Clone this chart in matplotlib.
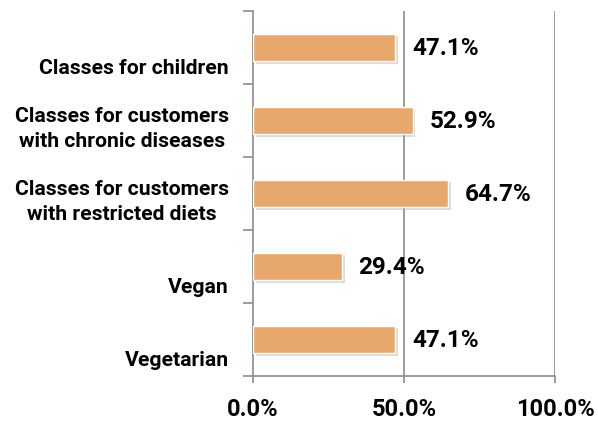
import numpy as np
import matplotlib
matplotlib.use("Agg")
import matplotlib.pyplot as plt
import matplotlib.patheffects as pe

# data (bottom to top)
categories = ["Vegetarian", "Vegan",
              "Classes for customers\nwith restricted diets",
              "Classes for customers\nwith chronic diseases",
              "Classes for children"]
values = [47.1, 29.4, 64.7, 52.9, 47.1]
xticks = [0, 50, 100]

bar_color = "#E8A86B"
axis_color = "#8C8C8C"

plt.rcParams['font.family'] = ['Roboto', 'DejaVu Sans']
plt.rcParams['font.weight'] = 'bold'

fig = plt.figure(figsize=(5.98, 4.22), dpi=100)
ax = fig.add_axes([0.423, 0.109, 0.505, 0.865])

y = np.arange(len(categories))
bars = ax.barh(y, values, height=0.38, color=bar_color, edgecolor="white",
               linewidth=1.0, zorder=3)
for b in bars:
    b.set_path_effects([pe.SimplePatchShadow(offset=(2, -2), shadow_rgbFace="#999999", alpha=0.35),
                        pe.Normal()])

# value labels
for yi, v in zip(y, values):
    ax.annotate(f"{v:.1f}%", (v, yi), xytext=(12, -1), textcoords="offset points",
                ha="left", va="center", fontsize=17.5, fontweight="bold", color="black")

# category labels, bottom aligned within each band
for yi, c in zip(y, categories):
    ax.text(-0.08, yi - 0.42, c, transform=ax.get_yaxis_transform(),
            ha="right", va="bottom", multialignment="center",
            fontsize=15.2, fontweight="bold", color="black", linespacing=1.4)

ax.set_xlim(0, 100)
ax.set_ylim(-0.5, len(categories) - 0.5)
ax.set_xticks(xticks)
ax.set_xticklabels([f"{t:.1f}%" for t in xticks], fontsize=17, fontweight="bold")
ax.set_yticks(np.arange(len(categories) + 1) - 0.5)
ax.set_yticklabels([])

for xv in xticks[1:]:
    ax.axvline(xv, color=axis_color, linewidth=1.2, zorder=1)

for s in ["top", "right"]:
    ax.spines[s].set_visible(False)
for s in ["left", "bottom"]:
    ax.spines[s].set_color(axis_color)
    ax.spines[s].set_linewidth(1.2)

ax.tick_params(axis="y", length=7, width=1.2, color=axis_color)
ax.tick_params(axis="x", length=5, width=1.2, color=axis_color, pad=11)

fig.savefig("out.png", dpi=100)
